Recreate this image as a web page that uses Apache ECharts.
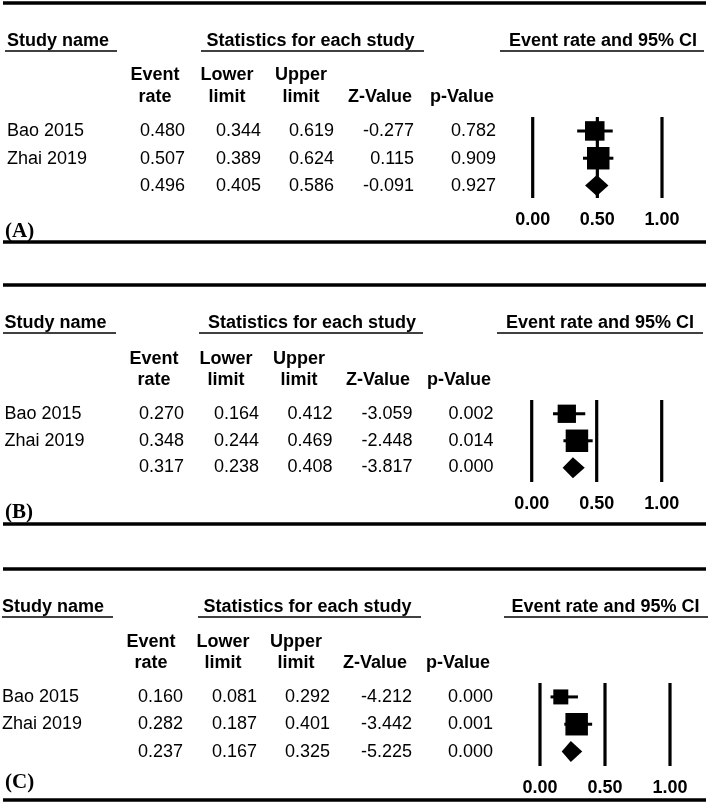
<!DOCTYPE html>
<html>
<head>
<meta charset="utf-8">
<script src="https://cdn.jsdelivr.net/npm/echarts@6/dist/echarts.min.js"></script>
<style>
html,body{margin:0;padding:0;background:#fff;}
#chart{width:709px;height:803px;}
</style>
</head>
<body>
<div id="chart"></div>
<script>
// ---------------- DATA ----------------
const studyNames = ['Bao 2015', 'Zhai 2019', ''];
const panelLabels = ['(A)', '(B)', '(C)'];
const headerStudy = 'Study name';
const headerStats = 'Statistics for each study';
const headerPlot = 'Event rate and 95% CI';
const columnHeadTop = ['Event', 'Lower', 'Upper', '', ''];
const columnHeadBottom = ['rate', 'limit', 'limit', 'Z-Value', 'p-Value'];

const eventRateA = [0.480, 0.507, 0.496];
const lowerLimitA = [0.344, 0.389, 0.405];
const upperLimitA = [0.619, 0.624, 0.586];
const zValueA = [-0.277, 0.115, -0.091];
const pValueA = [0.782, 0.909, 0.927];

const eventRateB = [0.270, 0.348, 0.317];
const lowerLimitB = [0.164, 0.244, 0.238];
const upperLimitB = [0.412, 0.469, 0.408];
const zValueB = [-3.059, -2.448, -3.817];
const pValueB = [0.002, 0.014, 0.000];

const eventRateC = [0.160, 0.282, 0.237];
const lowerLimitC = [0.081, 0.187, 0.167];
const upperLimitC = [0.292, 0.401, 0.325];
const zValueC = [-4.212, -3.442, -5.225];
const pValueC = [0.000, 0.001, 0.000];

const tickValues = [0, 0.5, 1];
const tickLabels = ['0.00', '0.50', '1.00'];

// ---------------- LAYOUT / STYLE ----------------
const SANS = '"Liberation Sans", Arial, sans-serif';
const SERIF = '"Liberation Serif", "Times New Roman", serif';
const FS = 18;

const panels = [
  { er: eventRateA, lo: lowerLimitA, hi: upperLimitA, z: zValueA, p: pValueA,
    ruleTop: 3, ruleBottom: 242, headY: 41, ulY: 51, colTopY: 75, colBotY: 97,
    rowsY: [131, 159, 186], colCenters: [155, 227, 301, 380, 462],
    valRight: [185, 261, 334, 414, 496], nameX: 7,
    studyUL: [5, 117], statsC: 310.5, statsUL: [201, 424], plotC: 603, plotUL: [500, 704],
    labelY: 232, grid: { left: 532.7, top: 117, width: 129.3, height: 81 },
    yMin: -0.51, rowGap: 27.3, sizes: [19.5, 22.5] },
  { er: eventRateB, lo: lowerLimitB, hi: upperLimitB, z: zValueB, p: pValueB,
    ruleTop: 285, ruleBottom: 524, headY: 323, ulY: 333, colTopY: 359, colBotY: 380,
    rowsY: [414, 441, 467], colCenters: [154, 226, 299, 378, 459],
    valRight: [184, 259, 332.5, 412.5, 493.5], nameX: 4.5,
    studyUL: [3, 116], statsC: 312, statsUL: [199, 423], plotC: 600, plotUL: [497, 703],
    labelY: 513, grid: { left: 531.7, top: 400, width: 130, height: 82 },
    yMin: -0.51, rowGap: 27.0, sizes: [18.3, 22.5] },
  { er: eventRateC, lo: lowerLimitC, hi: upperLimitC, z: zValueC, p: pValueC,
    ruleTop: 569, ruleBottom: 800, headY: 607, ulY: 617, colTopY: 642, colBotY: 663,
    rowsY: [697, 724, 752], colCenters: [151, 223, 296, 375, 458],
    valRight: [183, 257, 330, 412, 493], nameX: 2,
    studyUL: [2, 113], statsC: 307.5, statsUL: [198, 421], plotC: 605.5, plotUL: [504, 708],
    labelY: 783, grid: { left: 540, top: 683, width: 130, height: 83 },
    yMin: -0.51, rowGap: 27.3, sizes: [15, 22.5] }
];

function txt(x, y, text, opts) {
  opts = opts || {};
  return {
    type: 'text', x: x, y: y, silent: true,
    style: {
      text: text, fill: '#000',
      font: (opts.bold ? 'bold ' : '') + (opts.size || FS) + 'px ' + (opts.family || SANS),
      align: opts.align || 'left', verticalAlign: 'middle'
    }
  };
}
function hline(x1, x2, y, w) {
  return { type: 'line', silent: true, shape: { x1: x1, y1: y, x2: x2, y2: y },
           style: { stroke: '#000', lineWidth: w } };
}

const graphics = [];
const grids = [], xAxes = [], yAxes = [], series = [];

panels.forEach(function (P, k) {
  // rules
  graphics.push(hline(3, 706, P.ruleTop, 3.5));
  graphics.push(hline(3, 706, P.ruleBottom, 3.5));
  // top headers
  graphics.push(txt(P.nameX, P.headY, headerStudy, { bold: true }));
  graphics.push(hline(P.studyUL[0], P.studyUL[1], P.ulY, 1.6));
  graphics.push(txt(P.statsC, P.headY, headerStats, { bold: true, align: 'center' }));
  graphics.push(hline(P.statsUL[0], P.statsUL[1], P.ulY, 1.6));
  graphics.push(txt(P.plotC, P.headY, headerPlot, { bold: true, align: 'center' }));
  graphics.push(hline(P.plotUL[0], P.plotUL[1], P.ulY, 1.6));
  // column headers
  columnHeadTop.forEach(function (t, j) {
    if (t) graphics.push(txt(P.colCenters[j], P.colTopY, t, { bold: true, align: 'center' }));
  });
  columnHeadBottom.forEach(function (t, j) {
    graphics.push(txt(P.colCenters[j], P.colBotY, t, { bold: true, align: 'center' }));
  });
  // rows
  studyNames.forEach(function (name, i) {
    const y = P.rowsY[i];
    if (name) graphics.push(txt(P.nameX, y, name));
    const vals = [P.er[i], P.lo[i], P.hi[i], P.z[i], P.p[i]];
    vals.forEach(function (v, j) {
      graphics.push(txt(P.valRight[j], y, v.toFixed(3), { align: 'right' }));
    });
  });
  // panel label
  graphics.push(txt(5, P.labelY, panelLabels[k], { bold: true, size: 21, family: SERIF }));

  // plot grid
  grids.push({ left: P.grid.left, top: P.grid.top, width: P.grid.width, height: P.grid.height });
  xAxes.push({
    type: 'value', gridIndex: k, min: 0, max: 1, interval: 0.5,
    axisLine: { show: false }, axisTick: { show: false }, splitLine: { show: false },
    axisLabel: {
      show: true, margin: 13, color: '#000', fontWeight: 'bold', fontSize: FS, fontFamily: SANS,
      showMinLabel: true, showMaxLabel: true,
      formatter: function (v) {
        const idx = tickValues.findIndex(function (t) { return Math.abs(t - v) < 1e-9; });
        return idx >= 0 ? tickLabels[idx] : '';
      }
    }
  });
  yAxes.push({
    type: 'value', gridIndex: k, inverse: true, show: false,
    min: P.yMin, max: P.yMin + P.grid.height / P.rowGap,
    splitLine: { show: false }
  });

  // reference vertical lines
  series.push({
    type: 'custom', xAxisIndex: k, yAxisIndex: k, z: 2, clip: false, silent: true,
    data: tickValues.map(function (v) { return [v]; }),
    encode: { x: 0 },
    renderItem: function (params, api) {
      const x = api.coord([api.value(0), 0])[0];
      const cs = params.coordSys;
      return { type: 'line', shape: { x1: x, y1: cs.y, x2: x, y2: cs.y + cs.height },
               style: { stroke: '#000', lineWidth: 3.2 } };
    }
  });

  // study markers and pooled diamond
  series.push({
    type: 'custom', xAxisIndex: k, yAxisIndex: k, z: 3, clip: false, silent: true,
    data: P.er.map(function (v, i) { return [i, v, P.lo[i], P.hi[i]]; }),
    encode: { x: [1, 2, 3], y: 0 },
    renderItem: function (params, api) {
      const row = api.value(0);
      const c = api.coord([api.value(1), row]);
      const l = api.coord([api.value(2), row]);
      const h = api.coord([api.value(3), row]);
      if (params.dataIndex === 2) {
        const hh = 10.5;
        return { type: 'polygon',
                 shape: { points: [[l[0], c[1]], [c[0], c[1] - hh], [h[0], c[1]], [c[0], c[1] + hh]] },
                 style: { fill: '#000' } };
      }
      const s = P.sizes[params.dataIndex];
      return { type: 'group', children: [
        { type: 'line', shape: { x1: l[0], y1: c[1], x2: h[0], y2: c[1] },
          style: { stroke: '#000', lineWidth: 3 } },
        { type: 'rect', shape: { x: c[0] - s / 2, y: c[1] - s / 2, width: s, height: s },
          style: { fill: '#000' } }
      ] };
    }
  });
});

const chart = echarts.init(document.getElementById('chart'), null, { renderer: 'canvas' });
chart.setOption({
  backgroundColor: '#fff',
  animation: false,
  grid: grids,
  xAxis: xAxes,
  yAxis: yAxes,
  series: series,
  graphic: graphics
});
</script>
</body>
</html>
